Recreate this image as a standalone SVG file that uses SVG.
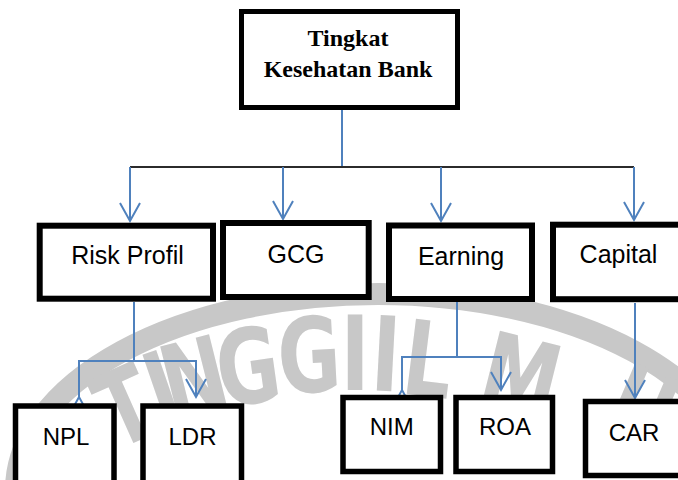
<svg xmlns="http://www.w3.org/2000/svg" width="678" height="480" viewBox="0 0 678 480">
  <style>
    .box { fill: #ffffff; stroke: #000000; }
    .lbl { font-family: "Liberation Sans", "Open Sans", sans-serif; font-size: 25px; fill: #000000; text-anchor: middle; }
    .lbl3 { font-family: "Liberation Sans", "Open Sans", sans-serif; font-size: 24px; fill: #000000; text-anchor: middle; }
    .title { font-family: "Liberation Serif", "DejaVu Serif", serif; font-size: 24px; font-weight: bold; fill: #000000; text-anchor: middle; }
    .conn { fill: none; stroke: #4f81bd; stroke-width: 2; }
    .bar { fill: none; stroke: #2b2b2b; stroke-width: 2; }
    .wm { fill: #c8c8c8; font-family: "DejaVu Sans", "Liberation Sans", sans-serif; font-weight: bold; font-size: 104px; text-anchor: middle; }
  </style>
  <defs>
    <marker id="vArrow" markerUnits="userSpaceOnUse" markerWidth="24" markerHeight="24" viewBox="-20 -12 24 24" refX="0" refY="0" orient="auto" overflow="visible">
      <path d="M-18,-10 L0,0 L-18,10" fill="none" stroke="#4f81bd" stroke-width="2"/>
    </marker>
  </defs>
  <rect width="678" height="480" fill="#ffffff"/>

  <g id="watermark">
    <ellipse cx="378" cy="490" rx="362" ry="196" fill="none" stroke="#c8c8c8" stroke-width="22"/>
    <text class="wm" transform="translate(140,440) rotate(-24) scale(0.74,1)">T</text>
    <text class="wm" transform="translate(174,424) rotate(-19) scale(0.74,1)">I</text>
    <text class="wm" transform="translate(203,414) rotate(-14) scale(0.74,1)">N</text>
    <text class="wm" transform="translate(253,403) rotate(-8) scale(0.74,1)">G</text>
    <text class="wm" transform="translate(311,392) rotate(-3) scale(0.74,1)">G</text>
    <text class="wm" transform="translate(355,390) rotate(0) scale(0.74,1)">I</text>
    <text class="wm" transform="translate(384,391) rotate(3) scale(0.74,1)">I</text>
    <text class="wm" transform="translate(424,396) rotate(7) scale(0.74,1)">L</text>
    <text class="wm" transform="translate(512,412) rotate(14) scale(0.74,1)">M</text>
    <text class="wm" transform="translate(628,442) rotate(23) scale(0.74,1)">U</text>
  </g>

  <g id="connectors">
    <line class="conn" x1="342" y1="110" x2="342" y2="167"/>
    <line class="bar" x1="130" y1="167" x2="634" y2="167"/>
    <line class="conn" x1="130" y1="167" x2="130" y2="221" marker-end="url(#vArrow)"/>
    <line class="conn" x1="283" y1="167" x2="283" y2="219" marker-end="url(#vArrow)"/>
    <line class="conn" x1="441" y1="167" x2="441" y2="221" marker-end="url(#vArrow)"/>
    <line class="conn" x1="634" y1="167" x2="634" y2="220" marker-end="url(#vArrow)"/>

    <polyline class="conn" points="134,302 134,361"/>
    <polyline class="conn" points="79,397 79,361 196,361 196,397" marker-start="url(#vArrow)" marker-end="url(#vArrow)"/>

    <polyline class="conn" points="457,302 457,357"/>
    <polyline class="conn" points="402,390 402,357 501,357 501,390" marker-start="url(#vArrow)" marker-end="url(#vArrow)"/>

    <line class="conn" x1="635" y1="303" x2="635" y2="398" marker-end="url(#vArrow)"/>
  </g>

  <g id="node-top">
    <rect class="box" x="241.5" y="11.5" width="216" height="96" stroke-width="5"/>
    <text class="title" x="348" y="46">Tingkat</text>
    <text class="title" x="348" y="77">Kesehatan Bank</text>
  </g>

  <g id="node-risk">
    <rect class="box" x="39.7" y="225.7" width="173.3" height="73" stroke-width="6"/>
    <text class="lbl" x="127.5" y="264">Risk Profil</text>
  </g>
  <g id="node-gcg">
    <rect class="box" x="223" y="223" width="145.7" height="74" stroke-width="6"/>
    <text class="lbl" x="296" y="263">GCG</text>
  </g>
  <g id="node-earning">
    <rect class="box" x="389" y="225.5" width="143" height="73.5" stroke-width="6"/>
    <text class="lbl" x="461" y="265">Earning</text>
  </g>
  <g id="node-capital">
    <rect class="box" x="553" y="224.7" width="140" height="74.5" stroke-width="6"/>
    <text class="lbl" x="618.5" y="263">Capital</text>
  </g>

  <g id="node-npl">
    <rect class="box" x="15.5" y="406" width="98.5" height="90" stroke-width="5.5"/>
    <text class="lbl3" x="66" y="445">NPL</text>
  </g>
  <g id="node-ldr">
    <rect class="box" x="143" y="406" width="98.5" height="90" stroke-width="5.5"/>
    <text class="lbl3" x="192.5" y="445">LDR</text>
  </g>
  <g id="node-nim">
    <rect class="box" x="343" y="397.5" width="97.5" height="74" stroke-width="5.5"/>
    <text class="lbl3" x="391.7" y="435">NIM</text>
  </g>
  <g id="node-roa">
    <rect class="box" x="456" y="397.5" width="96.5" height="74" stroke-width="5.5"/>
    <text class="lbl3" x="505" y="435">ROA</text>
  </g>
  <g id="node-car">
    <rect class="box" x="585.5" y="401.5" width="110" height="74" stroke-width="5.5"/>
    <text class="lbl3" x="634" y="441">CAR</text>
  </g>
</svg>
